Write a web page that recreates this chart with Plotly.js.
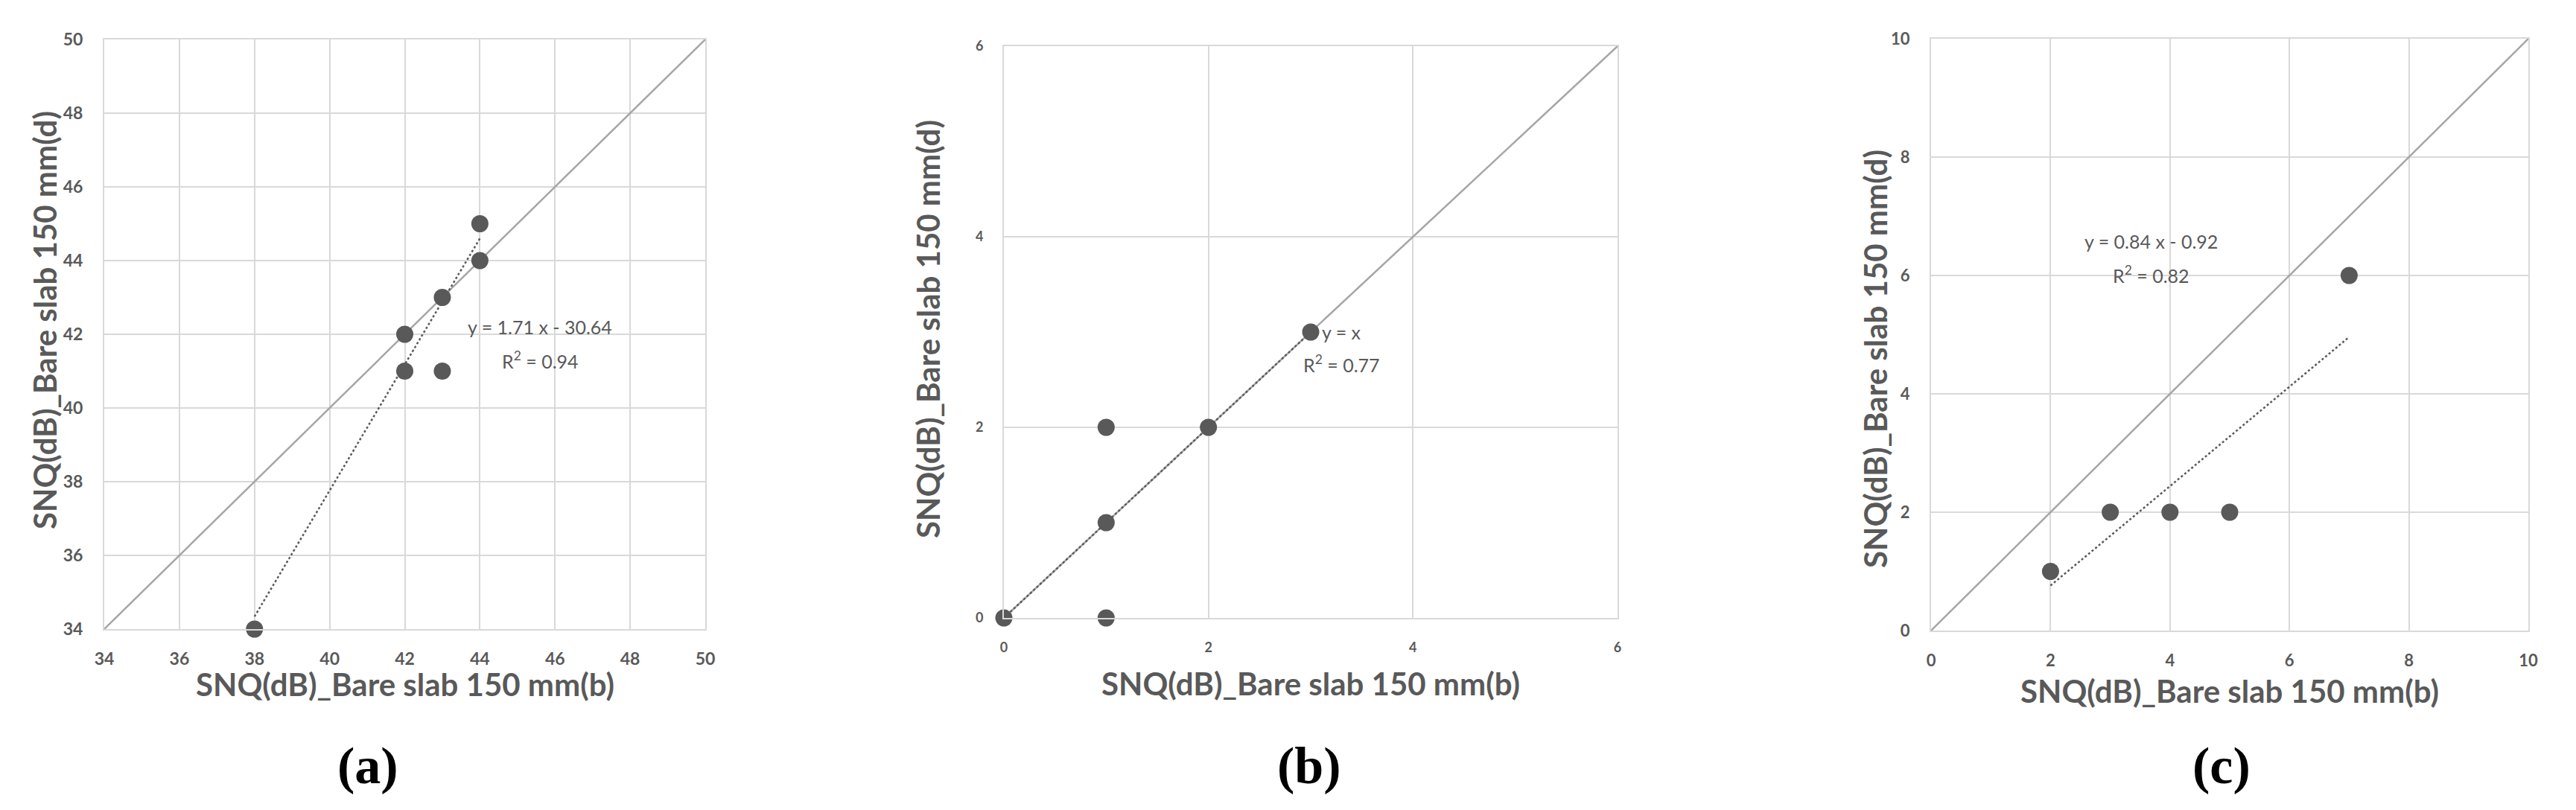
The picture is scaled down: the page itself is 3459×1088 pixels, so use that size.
<!DOCTYPE html>
<html>
<head>
<meta charset="utf-8">
<script src="https://cdn.plot.ly/plotly-3.0.1.min.js"></script>
<style>html,body{margin:0;padding:0;background:#fff;}#chart{width:3459px;height:1088px;}</style>
</head>
<body>
<div id="chart"></div>
<script>
// ---- data ----
const aX = [38, 42, 42, 43, 43, 44, 44];
const aY = [34, 42, 41, 43, 41, 45, 44];
const aFit = [1.71, -30.64];          // slope, intercept
const aR2 = 0.94;
const aRange = [34, 50];

const bX = [0, 1, 1, 1, 2, 3];
const bY = [0, 0, 1, 2, 2, 3];
const bFit = [1, 0];
const bR2 = 0.77;
const bRange = [0, 6];

const cX = [2, 3, 4, 5, 7];
const cY = [1, 2, 2, 2, 6];
const cFit = [0.84, -0.92];
const cR2 = 0.82;
const cRange = [0, 10];

const xTitle = "SNQ(dB)_Bare slab 150 mm(b)";
const yTitle = "SNQ(dB)_Bare slab 150 mm(d)";
const panelLabels = ["(a)", "(b)", "(c)"];

// ---- helpers ----
const W = 3459, H = 1088;
const px = v => v / W;
const py = v => 1 - v / H;
const GREY = "#595959";

function panelTraces(X, Y, fit, rng, ax) {
  const xa = ax === 1 ? "x" : "x" + ax;
  const ya = ax === 1 ? "y" : "y" + ax;
  const lo = Math.min(...X), hi = Math.max(...X);
  return [
    {x: rng, y: rng, xaxis: xa, yaxis: ya, mode: "lines", type: "scatter",
     line: {color: "#a6a6a6", width: 2.5}, hoverinfo: "skip", showlegend: false},
    {x: [lo, hi], y: [fit[0] * lo + fit[1], fit[0] * hi + fit[1]], xaxis: xa, yaxis: ya,
     mode: "lines", type: "scatter", line: {color: "#595959", width: 2.5, dash: "dot"},
     showlegend: false},
    {x: X, y: Y, xaxis: xa, yaxis: ya, mode: "markers", type: "scatter",
     marker: {color: "#595959", size: 23}, showlegend: false, cliponaxis: false}
  ];
}

const traces = [].concat(
  panelTraces(aX, aY, aFit, aRange, 1),
  panelTraces(bX, bY, bFit, bRange, 2),
  panelTraces(cX, cY, cFit, cRange, 3)
);

function axisCfg(dom, rng, anchor, fsize, standoff) {
  return {
    domain: dom, range: rng, anchor: anchor, dtick: 2, tick0: 0,
    showgrid: true, gridcolor: "#d9d9d9", gridwidth: 2,
    zeroline: false, showline: true, linecolor: "#d9d9d9", linewidth: 2, mirror: true,
    ticks: "", ticklabelstandoff: standoff,
    tickfont: {family: "Lato, 'Open Sans', sans-serif", size: fsize, color: GREY, weight: 700},
    fixedrange: true
  };
}

// pixel boxes
const boxA = {l: 140, r: 947, t: 53, b: 845};
const boxB = {l: 1348, r: 2172, t: 62, b: 830};
const boxC = {l: 2593, r: 3395, t: 52, b: 847};

const layout = {
  width: W, height: H,
  margin: {l: 0, r: 0, t: 0, b: 0},
  paper_bgcolor: "#fff", plot_bgcolor: "#fff",
  showlegend: false,
  xaxis: axisCfg([px(boxA.l), px(boxA.r)], aRange, "y", 23, 18),
  yaxis: axisCfg([py(boxA.b), py(boxA.t)], aRange, "x", 23, 22),
  xaxis2: axisCfg([px(boxB.l), px(boxB.r)], bRange, "y2", 18, 22),
  yaxis2: axisCfg([py(boxB.b), py(boxB.t)], bRange, "x2", 18, 22),
  xaxis3: axisCfg([px(boxC.l), px(boxC.r)], cRange, "y3", 22, 20),
  yaxis3: axisCfg([py(boxC.b), py(boxC.t)], cRange, "x3", 22, 22),
  annotations: []
};

const titleFont = {family: "Lato, 'Open Sans', sans-serif", size: 42, color: GREY, weight: 700};
const eqFont = {family: "Lato, 'Open Sans', sans-serif", size: 25, color: GREY};
const labFont = {family: "'Liberation Serif', 'DejaVu Serif', serif", size: 70, color: "#000", weight: 700};

function addPanelText(box, xt, yTitleX, yTitleY, label, labX) {
  layout.annotations.push(
    {xref: "paper", yref: "paper", x: px((box.l + box.r) / 2), y: py(xt), text: xTitle,
     showarrow: false, font: titleFont, xanchor: "center", yanchor: "middle"},
    {xref: "paper", yref: "paper", x: px(yTitleX), y: py(yTitleY), text: yTitle,
     showarrow: false, font: titleFont, textangle: -90, xanchor: "center", yanchor: "middle"},
    {xref: "paper", yref: "paper", x: px(labX), y: py(1028), text: label,
     showarrow: false, font: labFont, xanchor: "center", yanchor: "middle"}
  );
}
addPanelText(boxA, 919, 60, 430, panelLabels[0], 494);
addPanelText(boxB, 918, 1246, 442, panelLabels[1], 1758);
addPanelText(boxC, 928, 2518, 482, panelLabels[2], 2983);

function eq(fit, r2, xa, ya, x, y1, y2) {
  let s;
  if (fit[0] === 1 && fit[1] === 0) s = "y = x";
  else s = "y = " + fit[0].toFixed(2) + " x " + (fit[1] < 0 ? "- " : "+ ") + Math.abs(fit[1]).toFixed(2);
  layout.annotations.push(
    {xref: xa, yref: ya, x: x, y: y1, text: s, showarrow: false, font: eqFont, xanchor: "center", yanchor: "middle"},
    {xref: xa, yref: ya, x: x, y: y2, text: "R<sup>2</sup> = " + r2.toFixed(2), showarrow: false, font: eqFont, xanchor: "center", yanchor: "middle"}
  );
}
eq(aFit, aR2, "x", "y", 45.6, 42.2, 41.3);
eq(bFit, bR2, "x2", "y2", 3.3, 3.0, 2.67);
eq(cFit, cR2, "x3", "y3", 3.68, 6.58, 6.02);

Plotly.newPlot("chart", traces, layout, {staticPlot: true, displayModeBar: false});
</script>
</body>
</html>
